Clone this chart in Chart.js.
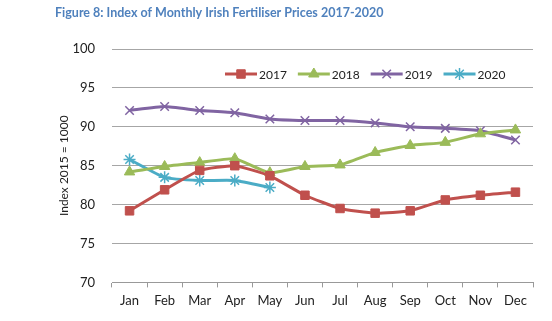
<!DOCTYPE html>
<html>
<head>
<meta charset="utf-8">
<script src="https://cdn.jsdelivr.net/npm/chart.js@4.4.1/dist/chart.umd.min.js"></script>
<style>
  html, body { margin: 0; padding: 0; background: #fff; }
  #wrap { width: 552px; height: 321px; position: relative; }
</style>
</head>
<body>
<div id="wrap"><canvas id="chart" width="552" height="321"></canvas></div>
<script>
var months = ["Jan", "Feb", "Mar", "Apr", "May", "Jun", "Jul", "Aug", "Sep", "Oct", "Nov", "Dec"];
var s2017 = [79.2, 81.9, 84.4, 85.0, 83.7, 81.2, 79.5, 78.9, 79.2, 80.6, 81.2, 81.6];
var s2018 = [84.2, 84.9, 85.4, 85.9, 84.1, 84.9, 85.1, 86.7, 87.6, 88.0, 89.1, 89.6];
var s2019 = [92.1, 92.6, 92.1, 91.8, 91.0, 90.8, 90.8, 90.5, 90.0, 89.8, 89.5, 88.3];
var s2020 = [85.8, 83.5, 83.1, 83.1, 82.2];
var yTicks = [70, 75, 80, 85, 90, 95, 100];

var FONT = "Lato";

function series(label, data, color, style, radius) {
  return {
    label: label,
    data: data,
    borderColor: color,
    backgroundColor: color,
    borderWidth: 3,
    pointStyle: style,
    pointRadius: radius,
    pointBorderWidth: style === "crossRot" || style === "star" ? 1.5 : 1,
    pointBorderColor: color,
    pointBackgroundColor: color,
    tension: 0.15,
    fill: false
  };
}

// legend drawn Excel-style: line with a marker in the middle, inside the plot area
var lineLegend = {
  id: "lineLegend",
  afterDraw: function (chart) {
    var ctx = chart.ctx;
    var area = chart.chartArea;
    var y = area.top + 25;
    var x = 225;
    ctx.save();
    ctx.font = "12px " + FONT;
    ctx.textBaseline = "middle";
    chart.data.datasets.forEach(function (ds) {
      var len = 32;
      ctx.strokeStyle = ds.borderColor;
      ctx.fillStyle = ds.borderColor;
      ctx.lineWidth = 3;
      ctx.beginPath();
      ctx.moveTo(x, y);
      ctx.lineTo(x + len, y);
      ctx.stroke();
      ctx.lineWidth = ds.pointBorderWidth;
      Chart.helpers.drawPoint(ctx, {
        pointStyle: ds.pointStyle,
        radius: ds.pointRadius,
        borderWidth: ds.pointBorderWidth,
        rotation: 0
      }, x + len / 2, y);
      ctx.fillStyle = "#222";
      ctx.fillText(ds.label, x + len + 2, y + 1);
      x += len + 2 + ctx.measureText(ds.label).width + 11;
    });
    ctx.restore();
  }
};

var ctx = document.getElementById("chart").getContext("2d");
new Chart(ctx, {
  type: "line",
  data: {
    labels: months,
    datasets: [
      series("2017", s2017, "#c0504d", "rect", 6),
      series("2018", s2018, "#9bbb59", "triangle", 6),
      series("2019", s2019, "#8064a2", "crossRot", 6),
      series("2020", s2020, "#4bacc6", "star", 6)
    ]
  },
  options: {
    responsive: false,
    animation: false,
    layout: { padding: { left: 55, right: 19, bottom: 6, top: 0 } },
    scales: {
      x: {
        offset: true,
        grid: { display: true, offset: true, drawOnChartArea: false, drawTicks: true, tickLength: 5, color: "#999" },
        border: { display: true, color: "#999", width: 1 },
        ticks: { color: "#222", font: { family: FONT, size: 13 }, padding: 6 }
      },
      y: {
        min: 70,
        max: 100,
        afterFit: function (scale) { scale.width = 57; },
        afterBuildTicks: function (scale) {
          scale.ticks = yTicks.map(function (v) { return { value: v }; });
        },
        grid: { color: "#a6a6a6", drawTicks: false, lineWidth: 1 },
        border: { display: false },
        ticks: { color: "#222", font: { family: FONT, size: 13 }, padding: 17 },
        title: { display: true, text: "Index 2015 = 1000", color: "#222", font: { family: FONT, size: 12 }, padding: 2 }
      }
    },
    plugins: {
      legend: { display: false },
      tooltip: { enabled: false },
      title: {
        display: true,
        text: "Figure 8: Index of Monthly Irish Fertiliser Prices 2017-2020",
        align: "start",
        color: "#4f81bd",
        font: { family: FONT, size: 12.5, weight: "bold" },
        padding: { top: 5, bottom: 29 }
      }
    }
  },
  plugins: [lineLegend]
});
</script>
</body>
</html>
